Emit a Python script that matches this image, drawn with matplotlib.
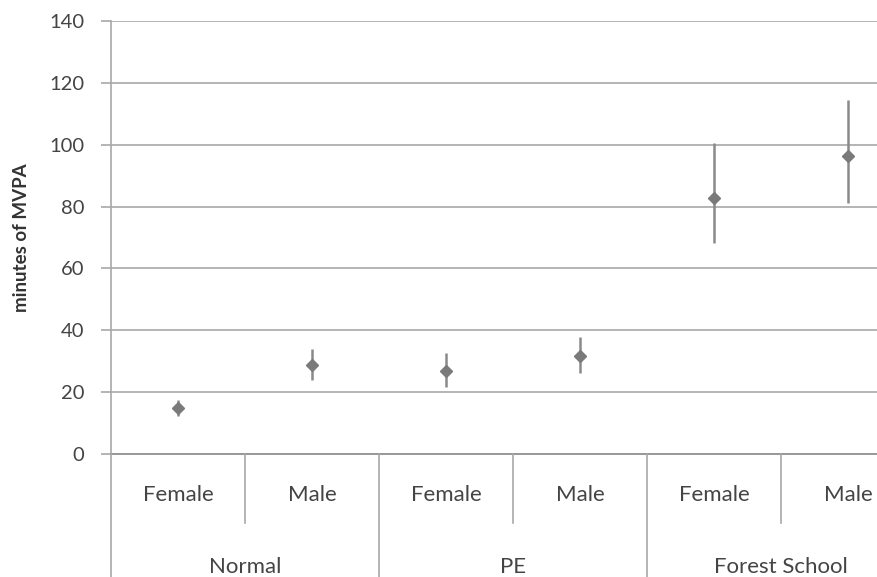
import matplotlib
matplotlib.use("Agg")
import matplotlib.pyplot as plt
import matplotlib.transforms as mtransforms

plt.rcParams['font.family'] = ['Lato', 'DejaVu Sans']

groups = ["Normal", "PE", "Forest School"]
sexes = ["Female", "Male", "Female", "Male", "Female", "Male"]
means = [15, 28.8, 26.8, 31.8, 82.8, 96.5]
err_low = [2.6, 4.8, 5.2, 5.6, 14.6, 15.3]
err_high = [2.6, 5.2, 5.8, 6.0, 17.6, 18.0]
yticks = [0, 20, 40, 60, 80, 100, 120, 140]

fig = plt.figure(figsize=(8.77, 5.77), dpi=100)
ax = fig.add_axes([111/877, 123/577, 804/877, 433/577])

x = list(range(len(means)))
ax.errorbar(x, means, yerr=[err_low, err_high], fmt='D', color='#7a7a7a',
            ecolor='#8a8a8a', elinewidth=1.8, markersize=6.5, capsize=0, zorder=3)

ax.set_xlim(-0.5, len(means) - 0.5)
ax.set_ylim(0, 140)
ax.set_yticks(yticks)
ax.yaxis.grid(True, color='#a8a8a8', linewidth=1.2)
ax.set_axisbelow(True)
for s in ['top', 'right', 'bottom', 'left']:
    ax.spines[s].set_visible(False)
ax.set_xticks([])
ax.tick_params(axis='y', length=7, width=1.2, color='#a8a8a8', labelsize=14.5,
               labelcolor='#444444', pad=12)
ax.set_ylabel("minutes of MVPA", fontsize=13.5, fontweight='bold', color='#333333', labelpad=14)

trans = mtransforms.blended_transform_factory(ax.transData, ax.transAxes)
linec = '#a8a8a8'
# baseline
ax.plot([-0.5, len(means) - 0.5], [0, 0], transform=trans, color='#999999', lw=1.4, clip_on=False)
# left axis line extending down
ax.plot([-0.5, -0.5], [1, -0.3], transform=trans, color=linec, lw=1.2, clip_on=False)
# dividers
for i in range(1, len(means)):
    xd = i - 0.5
    if i % 2 == 0:
        ax.plot([xd, xd], [0, -0.3], transform=trans, color=linec, lw=1.2, clip_on=False)
    else:
        ax.plot([xd, xd], [0, -0.159], transform=trans, color=linec, lw=1.2, clip_on=False)
# sub labels
for i, s in enumerate(sexes):
    ax.text(i, -0.095, s, transform=trans, ha='center', va='center', fontsize=16, color='#444444')
# group labels
for g, name in enumerate(groups):
    ax.text(2 * g + 0.5, -0.262, name, transform=trans, ha='center', va='center',
            fontsize=16, color='#444444')

fig.savefig("out.png", dpi=100)
